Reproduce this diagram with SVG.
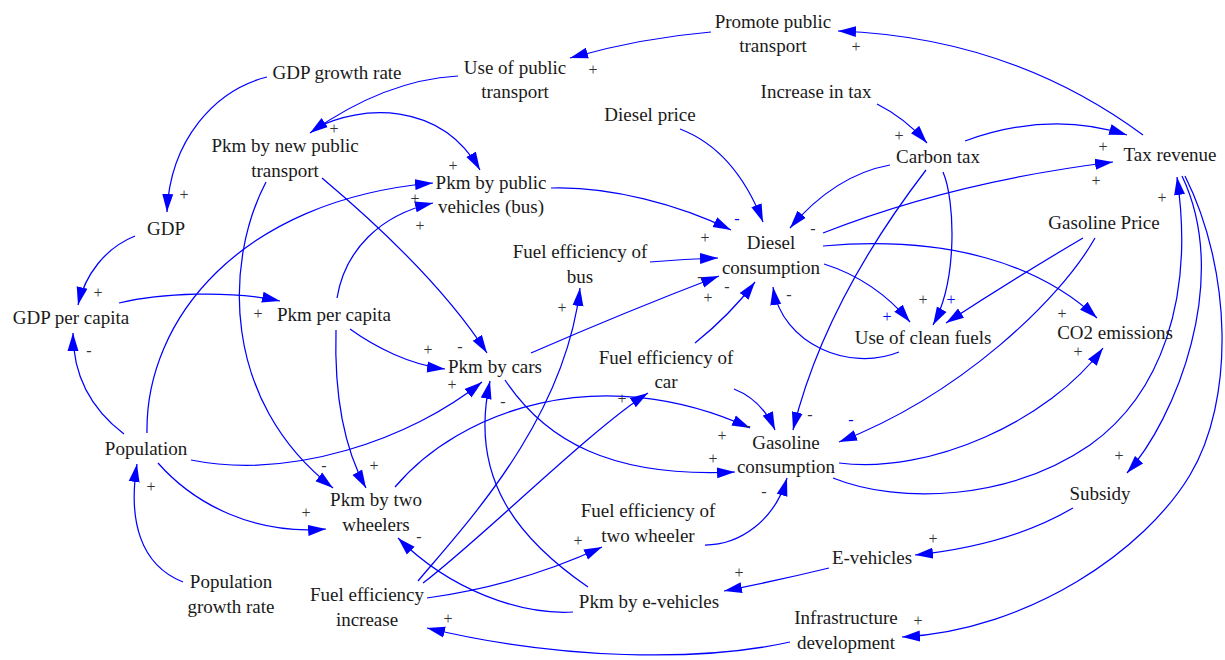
<svg xmlns="http://www.w3.org/2000/svg" width="1225" height="660" viewBox="0 0 1225 660">
<defs>
<marker id="arr" markerUnits="userSpaceOnUse" markerWidth="19" markerHeight="12" refX="18" refY="6" orient="auto">
<path d="M0,0.5 L18,6 L0,11.5 z" fill="#0000ff"/>
</marker>
<style>
.n text{font-family:"Liberation Serif","Times New Roman",serif;font-size:19px;fill:#1a1a1a;text-anchor:middle}
#connectors path{fill:none;stroke:#0000ff;stroke-width:1.25;marker-end:url(#arr)}
#labels text{font-family:"Liberation Serif","Times New Roman",serif;font-size:16px;fill:#333;text-anchor:middle}
#labels text.bl{fill:#0000ff}
</style>
</defs>
<rect width="1225" height="660" fill="#ffffff"/>

<g id="connectors">
<path d="M711,32 Q640,38 570,58"/>
<path d="M1143,135 Q1010,37 838,31"/>
<path d="M458,76 Q385,80 310,133"/>
<path d="M267,77 C215,90 170,140 167,212"/>
<path d="M316,128 C360,105 440,100 480,170"/>
<path d="M680,129 Q735,150 763,222"/>
<path d="M877,104 Q905,118 927,143"/>
<path d="M965,141 Q1050,110 1127,135"/>
<path d="M890,165 Q835,175 790,228"/>
<path d="M823,233 Q952,182 1113,162"/>
<path d="M926,170 C880,230 820,320 793,430"/>
<path d="M943,172 C955,200 958,280 933,325"/>
<path d="M1083,238 Q1015,278 946,323"/>
<path d="M1095,238 C1060,300 960,395 839,442"/>
<path d="M824,264 Q875,280 910,322"/>
<path d="M899,352 C850,372 782,345 773,287"/>
<path d="M823,246 C950,235 1040,265 1097,318"/>
<path d="M839,463 C930,475 1050,420 1103,348"/>
<path d="M833,478 C900,505 1010,500 1090,445 C1160,395 1195,300 1177,177"/>
<path d="M1182,176 C1232,280 1175,420 1127,473"/>
<path d="M1185,176 C1232,270 1235,400 1190,475 C1145,550 1030,630 902,637"/>
<path d="M1073,508 Q1010,545 915,555"/>
<path d="M829,568 Q780,580 724,591"/>
<path d="M790,642 C700,662 560,660 427,628"/>
<path d="M573,612 C520,615 450,590 398,538"/>
<path d="M588,587 C520,540 468,480 490,381"/>
<path d="M418,581 C465,525 565,420 580,288"/>
<path d="M423,583 C480,540 590,430 648,393"/>
<path d="M427,598 Q520,585 602,547"/>
<path d="M705,545 C740,545 775,520 787,478"/>
<path d="M734,389 Q762,400 775,430"/>
<path d="M395,487 C460,410 600,360 750,428"/>
<path d="M505,380 C545,440 610,478 735,472"/>
<path d="M531,353 Q625,312 719,276"/>
<path d="M650,262 Q685,259 718,258"/>
<path d="M551,188 C610,186 680,205 731,230"/>
<path d="M695,343 Q730,315 755,282"/>
<path d="M124,434 C95,412 73,380 73,333"/>
<path d="M135,236 C105,248 85,275 78,305"/>
<path d="M119,303 C160,293 230,290 280,301"/>
<path d="M147,433 C145,320 240,200 433,183"/>
<path d="M337,298 C345,250 380,215 433,203"/>
<path d="M322,178 C360,210 440,280 487,353"/>
<path d="M350,329 C375,347 410,365 445,369"/>
<path d="M266,182 C225,260 220,400 333,488"/>
<path d="M336,330 C334,400 345,450 366,488"/>
<path d="M191,460 C290,480 410,440 482,382"/>
<path d="M158,463 C195,505 255,535 326,529"/>
<path d="M183,582 C140,565 128,520 137,464"/>
</g>

<g id="labels">
<text x="593" y="75">+</text>
<text x="856" y="52">+</text>
<text x="334" y="134">+</text>
<text x="184" y="200">+</text>
<text x="899" y="141">+</text>
<text x="1103" y="152">+</text>
<text x="1096" y="186">+</text>
<text x="1162" y="203">+</text>
<text x="453" y="171">+</text>
<text x="415" y="204">+</text>
<text x="420" y="231">+</text>
<text class="bl" x="737" y="224">-</text>
<text x="813" y="234">-</text>
<text x="705" y="243">+</text>
<text x="700" y="282">-</text>
<text x="708" y="303">+</text>
<text x="727" y="292">-</text>
<text x="789" y="300">-</text>
<text x="923" y="305">+</text>
<text class="bl" x="951" y="305">+</text>
<text class="bl" x="887" y="322">+</text>
<text x="1062" y="319">+</text>
<text x="1078" y="357">+</text>
<text x="98" y="298">+</text>
<text x="258" y="319">+</text>
<text x="89" y="356">-</text>
<text x="428" y="355">+</text>
<text x="460" y="352">-</text>
<text x="452" y="390">+</text>
<text x="562" y="313">+</text>
<text x="503" y="407">-</text>
<text x="622" y="404">+</text>
<text x="748" y="431">-</text>
<text x="810" y="420">-</text>
<text class="bl" x="851" y="425">-</text>
<text x="722" y="441">+</text>
<text x="713" y="464">+</text>
<text x="764" y="497">-</text>
<text x="151" y="492">+</text>
<text x="324" y="471">-</text>
<text x="374" y="471">+</text>
<text x="306" y="518">+</text>
<text x="419" y="542">-</text>
<text x="578" y="546">+</text>
<text x="1119" y="461">+</text>
<text x="933" y="544">+</text>
<text x="739" y="578">+</text>
<text x="448" y="624">+</text>
<text x="918" y="626">+</text>
</g>

<g id="promote-public-transport" class="n"><text x="773" y="28">Promote public</text><text x="773" y="52">transport</text></g>
<g id="use-of-public-transport" class="n"><text x="515" y="74">Use of public</text><text x="515" y="98">transport</text></g>
<g id="gdp-growth-rate" class="n"><text x="337" y="79">GDP growth rate</text></g>
<g id="increase-in-tax" class="n"><text x="816" y="98">Increase in tax</text></g>
<g id="diesel-price" class="n"><text x="650" y="121">Diesel price</text></g>
<g id="pkm-new-public" class="n"><text x="285" y="152">Pkm by new public</text><text x="285" y="177">transport</text></g>
<g id="carbon-tax" class="n"><text x="938" y="163">Carbon tax</text></g>
<g id="tax-revenue" class="n"><text x="1170" y="161">Tax revenue</text></g>
<g id="pkm-public-bus" class="n"><text x="491" y="189">Pkm by public</text><text x="491" y="213">vehicles (bus)</text></g>
<g id="gdp" class="n"><text x="166" y="235">GDP</text></g>
<g id="gasoline-price" class="n"><text x="1104" y="229">Gasoline Price</text></g>
<g id="diesel-consumption" class="n"><text x="771" y="249">Diesel</text><text x="771" y="274">consumption</text></g>
<g id="fuel-eff-bus" class="n"><text x="580" y="258">Fuel efficiency of</text><text x="580" y="283">bus</text></g>
<g id="gdp-per-capita" class="n"><text x="71" y="324">GDP per capita</text></g>
<g id="pkm-per-capita" class="n"><text x="334" y="321">Pkm per capita</text></g>
<g id="co2-emissions" class="n"><text x="1115" y="339">CO2 emissions</text></g>
<g id="use-clean-fuels" class="n"><text x="923" y="344">Use of clean fuels</text></g>
<g id="pkm-cars" class="n"><text x="495" y="373">Pkm by cars</text></g>
<g id="fuel-eff-car" class="n"><text x="666" y="364">Fuel efficiency of</text><text x="666" y="388">car</text></g>
<g id="population" class="n"><text x="146" y="455">Population</text></g>
<g id="gasoline-consumption" class="n"><text x="786" y="449">Gasoline</text><text x="786" y="473">consumption</text></g>
<g id="pkm-two-wheelers" class="n"><text x="376" y="506">Pkm by two</text><text x="376" y="531">wheelers</text></g>
<g id="subsidy" class="n"><text x="1100" y="500">Subsidy</text></g>
<g id="fuel-eff-two-wheeler" class="n"><text x="648" y="517">Fuel efficiency of</text><text x="648" y="542">two wheeler</text></g>
<g id="e-vehicles" class="n"><text x="872" y="564">E-vehicles</text></g>
<g id="population-growth-rate" class="n"><text x="231" y="588">Population</text><text x="231" y="613">growth rate</text></g>
<g id="fuel-eff-increase" class="n"><text x="367" y="601">Fuel efficiency</text><text x="367" y="626">increase</text></g>
<g id="pkm-e-vehicles" class="n"><text x="649" y="608">Pkm by e-vehicles</text></g>
<g id="infrastructure-development" class="n"><text x="846" y="624">Infrastructure</text><text x="846" y="649">development</text></g>
</svg>
